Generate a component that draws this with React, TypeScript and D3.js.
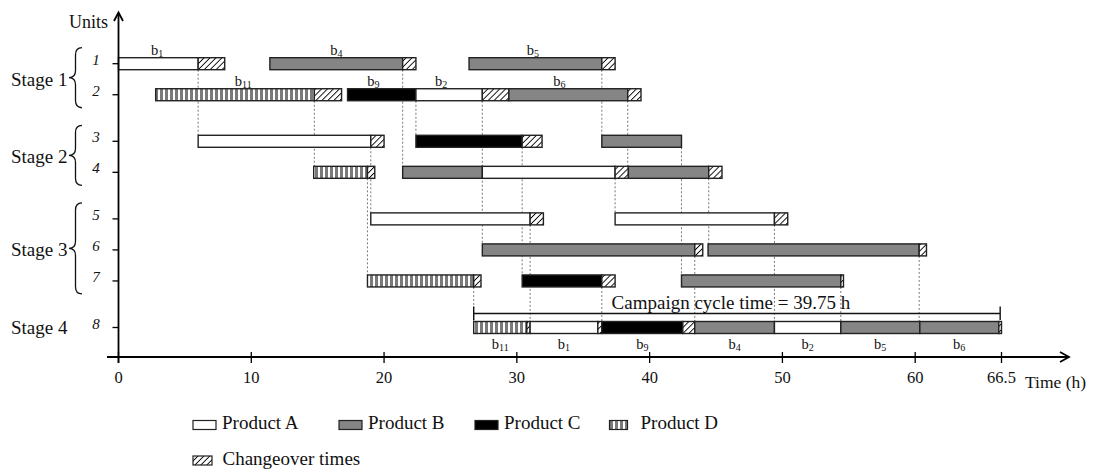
import React from "react";
import * as d3 from "d3";

const FONT = "'Liberation Serif', 'Times New Roman', serif";

const timeTicks = [0, 10, 20, 30, 40, 50, 60, 66.5];
const unitIds = [1, 2, 3, 4, 5, 6, 7, 8];
const unitStage = [1, 1, 2, 2, 3, 3, 3, 4];
const stageNames = ["Stage 1", "Stage 2", "Stage 3", "Stage 4"];

// [unit, start (h), end (h), kind]  kind: A | B | C | D | CO
const tasks: [number, number, number, string][] = [
  [1, 0, 6, "A"], [1, 6, 8, "CO"], [1, 11.4, 21.4, "B"], [1, 21.4, 22.4, "CO"], [1, 26.4, 36.4, "B"], [1, 36.4, 37.4, "CO"],
  [2, 2.8, 14.75, "D"], [2, 14.75, 16.8, "CO"], [2, 17.25, 22.4, "C"], [2, 22.4, 27.4, "A"], [2, 27.4, 29.4, "CO"], [2, 29.4, 38.35, "B"], [2, 38.35, 39.35, "CO"],
  [3, 6, 19, "A"], [3, 19, 20, "CO"], [3, 22.4, 30.4, "C"], [3, 30.4, 31.9, "CO"], [3, 36.4, 42.4, "B"],
  [4, 14.7, 18.75, "D"], [4, 18.75, 19.3, "CO"], [4, 21.4, 27.4, "B"], [4, 27.4, 37.4, "A"], [4, 37.4, 38.4, "CO"], [4, 38.4, 44.45, "B"], [4, 44.45, 45.45, "CO"],
  [5, 19, 31, "A"], [5, 31, 32, "CO"], [5, 37.4, 49.4, "A"], [5, 49.4, 50.4, "CO"],
  [6, 27.4, 43.4, "B"], [6, 43.4, 44, "CO"], [6, 44.4, 60.3, "B"], [6, 60.3, 60.85, "CO"],
  [7, 18.75, 26.75, "D"], [7, 26.75, 27.3, "CO"], [7, 30.4, 36.4, "C"], [7, 36.4, 37.4, "CO"], [7, 42.4, 54.4, "B"], [7, 54.4, 54.6, "CO"],
  [8, 26.75, 30.75, "D"], [8, 30.75, 31, "CO"], [8, 31, 36.1, "A"], [8, 36.1, 36.4, "CO"], [8, 36.4, 42.5, "C"], [8, 42.5, 43.4, "CO"],
  [8, 43.4, 49.4, "B"], [8, 49.4, 54.4, "A"], [8, 54.4, 60.35, "B"], [8, 60.35, 66.3, "B"], [8, 66.3, 66.5, "CO"],
];

// batch labels: [unit, time, subscript, side]
const batchLabels: [number, number, string, string][] = [
  [1, 2.9, "1", "above"], [1, 16.4, "4", "above"], [1, 31.2, "5", "above"],
  [2, 9.4, "11", "above"], [2, 19.2, "9", "above"], [2, 24.3, "2", "above"], [2, 33.2, "6", "above"],
  [8, 28.75, "11", "below"], [8, 33.55, "1", "below"], [8, 39.45, "9", "below"], [8, 46.4, "4", "below"],
  [8, 51.9, "2", "below"], [8, 57.35, "5", "below"], [8, 63.3, "6", "below"],
];

// dashed connectors: [time, from unit, to unit]
const links: [number, number, number][] = [
  [6, 1, 3], [14.75, 2, 4], [19, 3, 5], [18.75, 4, 7], [21.4, 1, 4], [22.4, 2, 3], [27.4, 2, 6],
  [26.75, 7, 8], [36.4, 1, 3], [30.4, 3, 7], [31, 5, 8], [38.35, 2, 4], [37.4, 4, 5], [42.4, 3, 7],
  [44.45, 4, 6], [36.4, 7, 8], [43.4, 6, 8], [49.4, 5, 8], [54.4, 7, 8], [60.3, 6, 8],
];

const campaign = [26.75, 66.4];
const campaignLabel = "Campaign cycle time = 39.75 h";

const legendRow1 = [["A", "Product A"], ["B", "Product B"], ["C", "Product C"], ["D", "Product D"]];
const legendRow2 = [["CO", "Changeover times"]];

const fills: Record<string, string> = {
  A: "#ffffff",
  B: "#858585",
  C: "#000000",
  D: "url(#stripes)",
  CO: "url(#hatch)",
};

const x = d3.scaleLinear().domain([0, 66.5]).range([118.5, 1001.5]);
const slot = (u: number) => u - 1 + 0.5 * (unitStage[u - 1] - 1);
const y = d3.scaleLinear().domain([0, 8.5]).range([63.7, 327.5]);
const yU = (u: number) => y(slot(u));
const BAR_H = 12;
const AXIS_Y = 357;

function bracePath(xr: number, y0: number, y1: number, w: number) {
  const ym = (y0 + y1) / 2;
  const xm = xr - w / 2;
  const c = w * 0.55;
  return `M${xr},${y0} Q${xm},${y0} ${xm},${y0 + c} L${xm},${ym - c} Q${xm},${ym} ${xr - w},${ym} Q${xm},${ym} ${xm},${ym + c} L${xm},${y1 - c} Q${xm},${y1} ${xr},${y1}`;
}

const App = () => {
  const axisX0 = x(0);

  // stage groups for labels and braces
  const stages = stageNames.map((name, i) => {
    const us = unitIds.filter((u) => unitStage[u - 1] === i + 1);
    const top = yU(us[0]);
    const bot = yU(us[us.length - 1]);
    return { name, us, top, bot, mid: (top + bot) / 2 };
  });

  const legendX1 = [193, 339, 475, 609.5];
  const legendW1 = [23, 23, 23, 18];

  return (
    <svg width={1093} height={470} style={{ position: "absolute", left: 0, top: 0, background: "#fff" }} fontFamily={FONT}>
      <defs>
        <pattern id="hatch" patternUnits="userSpaceOnUse" width={4.2} height={4.2} patternTransform="rotate(45)">
          <rect width={4.2} height={4.2} fill="#fff" />
          <line x1={0} y1={0} x2={0} y2={4.2} stroke="#000" strokeWidth={1.8} />
        </pattern>
        <pattern id="stripes" patternUnits="userSpaceOnUse" width={5} height={10}>
          <rect width={5} height={10} fill="#7a7a7a" />
          <rect x={3} width={2} height={10} fill="#fff" />
        </pattern>
      </defs>

      {/* dashed connectors */}
      <g stroke="#555" strokeWidth={0.8} strokeDasharray="2,2">
        {links.map(([t, a, b], i) => (
          <line key={i} x1={x(t)} x2={x(t)} y1={yU(a) + BAR_H / 2} y2={yU(b) - BAR_H / 2} />
        ))}
      </g>

      {/* bars */}
      <g stroke="#222" strokeWidth={1.4}>
        {tasks.map(([u, s, e, k], i) => (
          <rect key={i} x={x(s)} y={yU(u) - BAR_H / 2} width={x(e) - x(s)} height={BAR_H} fill={fills[k]} />
        ))}
      </g>

      {/* batch labels */}
      {batchLabels.map(([u, t, sub, side], i) => (
        <text
          key={i}
          x={x(t)}
          y={side === "above" ? yU(u) - BAR_H / 2 - 3 : yU(u) + BAR_H / 2 + 15}
          textAnchor="middle"
          fontSize={14.5}
          fill="#111"
        >
          b<tspan fontSize={10} dy={2}>{sub}</tspan>
        </text>
      ))}

      {/* campaign cycle marker */}
      <g stroke="#111" strokeWidth={1.4}>
        <line x1={x(campaign[0])} x2={x(campaign[1])} y1={313.5} y2={313.5} />
        <line x1={x(campaign[0])} x2={x(campaign[0])} y1={306.5} y2={320} />
        <line x1={x(campaign[1])} x2={x(campaign[1])} y1={306.5} y2={320} />
      </g>
      <text x={(x(campaign[0]) + x(campaign[1])) / 2 - 6} y={308.5} textAnchor="middle" fontSize={19} fill="#111">
        {campaignLabel}
      </text>

      {/* x axis */}
      <g stroke="#000" strokeWidth={1.8} fill="none">
        <line x1={107} x2={1068} y1={AXIS_Y} y2={AXIS_Y} />
        <polyline points={`1060,${AXIS_Y - 5} 1069,${AXIS_Y} 1060,${AXIS_Y + 5}`} />
        {timeTicks.map((t) => (
          <line key={t} x1={x(t)} x2={x(t)} y1={AXIS_Y - 5} y2={AXIS_Y + 6} strokeWidth={1.3} />
        ))}
      </g>
      {timeTicks.map((t) => (
        <text key={t} x={x(t)} y={383} textAnchor="middle" fontSize={16.5} fill="#111">
          {t}
        </text>
      ))}
      <text x={1025} y={388} fontSize={17.5} fill="#111">Time (h)</text>

      {/* y axis */}
      <g stroke="#000" strokeWidth={1.8} fill="none">
        <line x1={axisX0} x2={axisX0} y1={AXIS_Y + 6} y2={13} />
        <polyline points={`${axisX0 - 4.5},21 ${axisX0},12.5 ${axisX0 + 4.5},21`} />
        {unitIds.map((u) => (
          <line key={u} x1={axisX0 - 6} x2={axisX0} y1={yU(u)} y2={yU(u)} strokeWidth={1.3} />
        ))}
      </g>
      <text x={69} y={28} fontSize={18} fill="#111">Units</text>
      {unitIds.map((u) => (
        <text key={u} x={96} y={yU(u) + 1} textAnchor="middle" fontSize={15} fontStyle="italic" fill="#111">
          {u}
        </text>
      ))}

      {/* stages */}
      {stages.map((s) => (
        <g key={s.name}>
          <text x={11} y={s.mid + 6.5} fontSize={19} fill="#111">{s.name}</text>
          {s.us.length > 1 && (
            <path
              d={bracePath(82, s.top - 16, s.bot + 13, 13)}
              fill="none"
              stroke="#111"
              strokeWidth={1.3}
            />
          )}
        </g>
      ))}

      {/* legend */}
      {legendRow1.map(([k, label], i) => (
        <g key={k}>
          <rect x={legendX1[i]} y={420.5} width={legendW1[i]} height={9} fill={fills[k]} stroke="#222" strokeWidth={1.2} />
          <text x={legendX1[i] + legendW1[i] + 6 + (i === 3 ? 7 : 0)} y={428.5} fontSize={19} fill="#111">{label}</text>
        </g>
      ))}
      {legendRow2.map(([k, label]) => (
        <g key={k}>
          <rect x={193} y={456} width={19} height={9} fill={fills[k]} stroke="#222" strokeWidth={1.2} />
          <text x={222.5} y={465} fontSize={19} fill="#111">{label}</text>
        </g>
      ))}
    </svg>
  );
};

export default App;
